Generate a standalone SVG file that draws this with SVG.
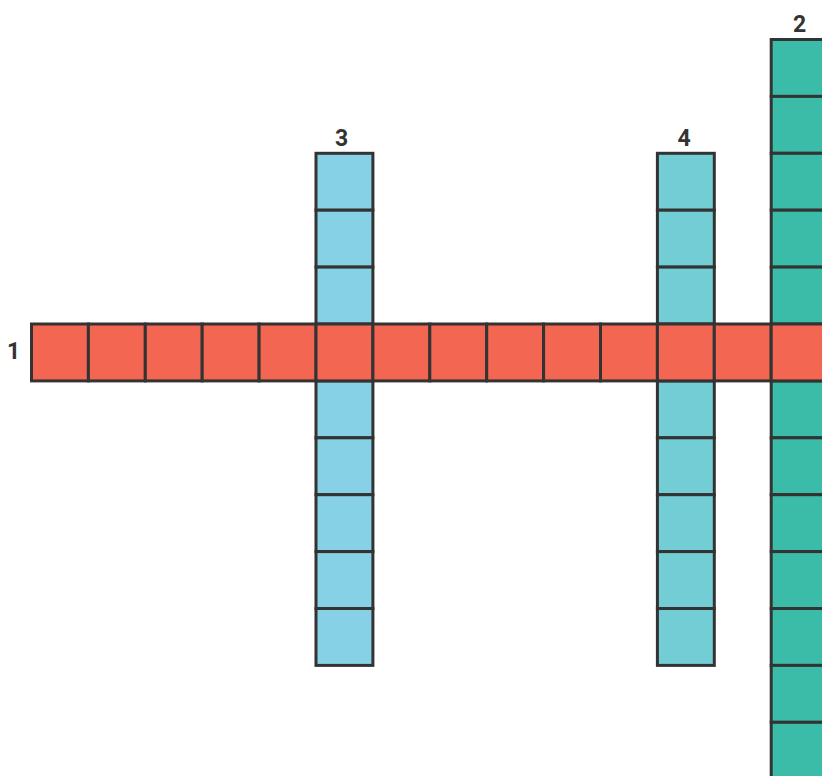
<svg xmlns="http://www.w3.org/2000/svg" width="822" height="776" viewBox="0 0 822 776">
<style>
.c{stroke:#333333;stroke-width:3;stroke-linejoin:miter}
.r{fill:#F26652}
.b{fill:#86D1E5}
.t{fill:#72CDD4}
.g{fill:#3BBCA9}
.lbl{font-family:"Roboto","Liberation Sans",sans-serif;font-weight:bold;font-size:23px;fill:#333333;text-anchor:middle}
</style>
<rect width="822" height="776" fill="#ffffff"/>
<g id="word2">
<rect class="c g" x="771.2" y="39.5" width="56.9" height="56.9"/>
<rect class="c g" x="771.2" y="96.4" width="56.9" height="56.9"/>
<rect class="c g" x="771.2" y="153.3" width="56.9" height="56.9"/>
<rect class="c g" x="771.2" y="210.2" width="56.9" height="56.9"/>
<rect class="c g" x="771.2" y="267.1" width="56.9" height="56.9"/>
<rect class="c g" x="771.2" y="380.9" width="56.9" height="56.9"/>
<rect class="c g" x="771.2" y="437.8" width="56.9" height="56.9"/>
<rect class="c g" x="771.2" y="494.7" width="56.9" height="56.9"/>
<rect class="c g" x="771.2" y="551.6" width="56.9" height="56.9"/>
<rect class="c g" x="771.2" y="608.5" width="56.9" height="56.9"/>
<rect class="c g" x="771.2" y="665.4" width="56.9" height="56.9"/>
<rect class="c g" x="771.2" y="722.3" width="56.9" height="56.9"/>
<text class="lbl" x="799.5" y="31.5">2</text>
</g>
<g id="word3">
<rect class="c b" x="316" y="153.3" width="56.9" height="56.9"/>
<rect class="c b" x="316" y="210.2" width="56.9" height="56.9"/>
<rect class="c b" x="316" y="267.1" width="56.9" height="56.9"/>
<rect class="c b" x="316" y="380.9" width="56.9" height="56.9"/>
<rect class="c b" x="316" y="437.8" width="56.9" height="56.9"/>
<rect class="c b" x="316" y="494.7" width="56.9" height="56.9"/>
<rect class="c b" x="316" y="551.6" width="56.9" height="56.9"/>
<rect class="c b" x="316" y="608.5" width="56.9" height="56.9"/>
<text class="lbl" x="341.5" y="145.5">3</text>
</g>
<g id="word4">
<rect class="c t" x="657.4" y="153.3" width="56.9" height="56.9"/>
<rect class="c t" x="657.4" y="210.2" width="56.9" height="56.9"/>
<rect class="c t" x="657.4" y="267.1" width="56.9" height="56.9"/>
<rect class="c t" x="657.4" y="380.9" width="56.9" height="56.9"/>
<rect class="c t" x="657.4" y="437.8" width="56.9" height="56.9"/>
<rect class="c t" x="657.4" y="494.7" width="56.9" height="56.9"/>
<rect class="c t" x="657.4" y="551.6" width="56.9" height="56.9"/>
<rect class="c t" x="657.4" y="608.5" width="56.9" height="56.9"/>
<text class="lbl" x="684" y="145.5">4</text>
</g>
<g id="word1">
<rect class="c r" x="31.5" y="324" width="56.9" height="56.9"/>
<rect class="c r" x="88.4" y="324" width="56.9" height="56.9"/>
<rect class="c r" x="145.3" y="324" width="56.9" height="56.9"/>
<rect class="c r" x="202.2" y="324" width="56.9" height="56.9"/>
<rect class="c r" x="259.1" y="324" width="56.9" height="56.9"/>
<rect class="c r" x="316" y="324" width="56.9" height="56.9"/>
<rect class="c r" x="372.9" y="324" width="56.9" height="56.9"/>
<rect class="c r" x="429.8" y="324" width="56.9" height="56.9"/>
<rect class="c r" x="486.7" y="324" width="56.9" height="56.9"/>
<rect class="c r" x="543.6" y="324" width="56.9" height="56.9"/>
<rect class="c r" x="600.5" y="324" width="56.9" height="56.9"/>
<rect class="c r" x="657.4" y="324" width="56.9" height="56.9"/>
<rect class="c r" x="714.3" y="324" width="56.9" height="56.9"/>
<rect class="c r" x="771.2" y="324" width="56.9" height="56.9"/>
<text class="lbl" x="13.5" y="358.5">1</text>
</g>
<g id="connectors"></g>
</svg>
